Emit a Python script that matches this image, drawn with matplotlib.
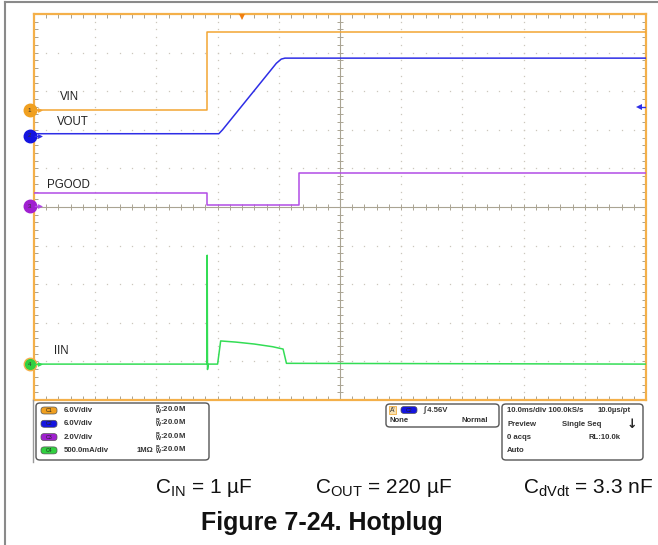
import matplotlib
matplotlib.use("Agg")
import matplotlib.pyplot as plt
from matplotlib.patches import FancyBboxPatch
import numpy as np

plt.rcParams['font.family'] = ['Liberation Sans', 'DejaVu Sans']
plt.rcParams['mathtext.fontset'] = 'custom'
plt.rcParams['mathtext.rm'] = 'Liberation Sans'

# scope data, time in ms (10 ms/div, trigger marker at -16 ms)
t_vin = [-50, -21.7, -21.7, 50]
v_vin = [0.0, 0.0, 12.1, 12.1]
t_vout = [-50, -19.8, -19.2, -10.4, -9.6, -9.0, 50]
v_vout = [0.35, 0.35, 0.95, 11.3, 11.95, 12.1, 12.1]
t_pgood = [-50, -21.7, -21.7, -6.7, -6.7, 50]
v_pgood = [0.69, 0.69, 0.04, 0.04, 1.73, 1.73]
t_iin = [-50, -21.75, -21.7, -21.65, -21.5, -20.0, -19.5, -17, -14, -11, -9.3, -8.75, 50]
i_iin = [0.0, 0.0, 1.41, -0.07, 0.0, 0.0, 0.30, 0.285, 0.26, 0.225, 0.195, 0.01, 0.0]

# channel settings: scale per div and offset (div)
ch_names = ['VIN', 'VOUT', 'PGOOD', 'IIN']
ch_scale = [6.0, 6.0, 2.0, 0.5]
ch_offset = [2.51, 1.84, 0.02, -4.07]
ch_color = ['#F2A533', '#2E2EE6', '#B24CE6', '#33DD55']
ch_marker = ['#F0A020', '#1414E0', '#A020D0', '#30D040']
ch_label = ['6.0V/div', '6.0V/div', '2.0V/div', '500.0mA/div']
trig_level = 4.56
trig_time = -16.0

W, H = 658, 545
fig = plt.figure(figsize=(W / 100, H / 100), dpi=100)


def fx(px):
    return px / W


def fy(py):
    return 1 - py / H


# outer border of the figure box
fig.add_artist(plt.Line2D([fx(5), fx(5)], [0, fy(2)], color='#8a8a8a', lw=1.5))
fig.add_artist(plt.Line2D([fx(5), 1], [fy(2), fy(2)], color='#8a8a8a', lw=1.5))

ax = fig.add_axes([fx(34), fy(400), fx(646) - fx(34), fy(14) - fy(400)])
ax.set_xlim(-50, 50)
ax.set_ylim(-5, 5)
for s in ax.spines.values():
    s.set_color('#F4B04A')
    s.set_linewidth(1.6)
ax.set_xticks(np.arange(-50, 51, 10))
ax.set_yticks(np.arange(-5, 6, 1))
ax.set_xticks(np.arange(-50, 51, 2), minor=True)
ax.set_yticks(np.arange(-5, 5.01, 0.2), minor=True)
ax.tick_params(which='both', direction='in', length=3, width=0.7, color='#A8A290',
               top=True, right=True, labelbottom=False, labelleft=False)

# dotted grid
grid_c = '#CBC7BC'
xm = np.arange(-50, 51, 2)
ym = np.arange(-5, 5.01, 0.2)
for gx in range(-40, 41, 10):
    if gx != 0:
        ax.plot(np.full_like(ym, gx), ym, ls='none', marker='s', ms=0.9, mew=0, color=grid_c)
for gy in range(-4, 5):
    if gy != 0:
        ax.plot(xm, np.full_like(xm, gy, dtype=float), ls='none', marker='s', ms=0.9, mew=0, color=grid_c)
# center axes with ticks
ax.axhline(0, color='#AAA493', lw=0.8)
ax.axvline(0, color='#AAA493', lw=0.8)
ax.plot(xm, np.zeros_like(xm), ls='none', marker='|', ms=4, mew=0.7, color='#AAA493')
ax.plot(np.zeros_like(ym), ym, ls='none', marker='_', ms=4, mew=0.7, color='#AAA493')

traces = [(t_vin, v_vin), (t_vout, v_vout), (t_pgood, v_pgood), (t_iin, i_iin)]
for k, (tt, vv) in enumerate(traces):
    yd = np.array(vv) / ch_scale[k] + ch_offset[k]
    ax.plot(tt, yd, color=ch_color[k], lw=1.1, zorder=5)
    # channel ground marker
    ax.plot([-50.7], [ch_offset[k]], marker='o', ms=9, color=ch_marker[k],
            mec='#F4B04A' if k == 3 else ch_marker[k], mew=1.0, clip_on=False, zorder=10)
    ax.text(-50.7, ch_offset[k], str(k + 1), fontsize=4.5, ha='center', va='center',
            color='#333333', clip_on=False, zorder=11)
    ax.plot([-49.8, -49.0], [ch_offset[k]] * 2, color=ch_color[k], lw=1.0, clip_on=False, zorder=10)
    ax.plot([-49.0], [ch_offset[k]], marker='>', ms=3.5, color=ch_color[k], mew=0, clip_on=False, zorder=10)

# trace labels
label_pos = [(-45.8, 2.86), (-46.2, 2.19), (-47.8, 0.58), (-46.7, -3.74)]
for k, (lx, ly) in enumerate(label_pos):
    ax.text(lx, ly, ch_names[k], fontsize=8.3, ha='left', va='center', color='#222222')

# trigger markers
ax.plot([trig_time], [4.92], marker='v', ms=5, color='#F07F10', mew=0, clip_on=False, zorder=12)
yt = trig_level / ch_scale[1] + ch_offset[1]
ax.plot([49.0, 50.0], [yt, yt], color=ch_color[1], lw=1.0, zorder=12)
ax.plot([48.9], [yt], marker='<', ms=4, color=ch_color[1], mew=0, zorder=12)

# info panel
fig.add_artist(plt.Line2D([fx(33), fx(33)], [fy(462), fy(400)], color='#9a9a9a', lw=1))


def box(x0, y0, x1, y1):
    p = FancyBboxPatch((fx(x0), fy(y1)), fx(x1) - fx(x0), fy(y0) - fy(y1),
                       boxstyle='round,pad=0,rounding_size=0.006', transform=fig.transFigure,
                       fc='white', ec='#555555', lw=1.0)
    fig.add_artist(p)


def pill(x0, yc, color, txt):
    p = FancyBboxPatch((fx(x0), fy(yc + 3.5)), fx(16), fy(0) - fy(7),
                       boxstyle='round,pad=0,rounding_size=0.005', transform=fig.transFigure,
                       fc=color, ec='#555555', lw=0.5)
    fig.add_artist(p)
    fig.text(fx(x0 + 8), fy(yc), txt, fontsize=3.8, ha='center', va='center', color='#222222')


txt_kw = dict(fontsize=5.6, fontweight='bold', color='#333333', va='center')
box(36, 403, 209, 460)
for k in range(4):
    yc = 410.5 + k * 13.3
    pill(41, yc, ch_marker[k], 'C%d' % (k + 1))
    fig.text(fx(64), fy(yc), ch_label[k], ha='left', **txt_kw)
    fig.text(fx(155), fy(yc), r'$\mathregular{^B_W}$:20.0M', ha='left', **txt_kw)
fig.text(fx(137), fy(450.4), '1MΩ', ha='left', **txt_kw)

box(386, 404, 499, 427)
fig.text(fx(390), fy(410), "A'", ha='left', fontsize=4.8, color='#333333', va='center',
         bbox=dict(boxstyle='square,pad=0.1', fc='#F8E0B0', ec='#F0A020', lw=0.5))
pill(401, 410, ch_marker[1], 'C2')
fig.text(fx(423), fy(410), '∫ 4.56V', ha='left', **txt_kw)
fig.text(fx(389), fy(421), 'None', ha='left', **txt_kw)
fig.text(fx(488), fy(421), 'Normal', ha='right', **txt_kw)

box(502, 404, 643, 460)
fig.text(fx(507), fy(411), '10.0ms/div 100.0kS/s', ha='left', **txt_kw)
fig.text(fx(631), fy(411), '10.0µs/pt', ha='right', **txt_kw)
fig.text(fx(507), fy(424.5), 'Preview', ha='left', **txt_kw)
fig.text(fx(562), fy(424.5), 'Single Seq', ha='left', **txt_kw)
fig.text(fx(632), fy(425), '↓', ha='center', fontsize=9, fontweight='bold', color='#222222',
         va='center', family='DejaVu Sans')
fig.text(fx(507), fy(437.5), '0 acqs', ha='left', **txt_kw)
fig.text(fx(621), fy(437.5), 'RL:10.0k', ha='right', **txt_kw)
fig.text(fx(507), fy(450.5), 'Auto', ha='left', **txt_kw)

# captions
cap_kw = dict(fontsize=15, color='#111111', va='baseline', ha='left')
fig.text(fx(155), fy(493), r'C$_\mathregular{IN}$ = 1 µF', **cap_kw)
fig.text(fx(315), fy(493), r'C$_\mathregular{OUT}$ = 220 µF', **cap_kw)
fig.text(fx(523), fy(493), r'C$_\mathregular{dVdt}$ = 3.3 nF', **cap_kw)
fig.text(fx(322), fy(523), 'Figure 7-24. Hotplug', fontsize=18, fontweight='bold',
         color='#111111', ha='center', va='center')

fig.savefig('out.png', dpi=100)
